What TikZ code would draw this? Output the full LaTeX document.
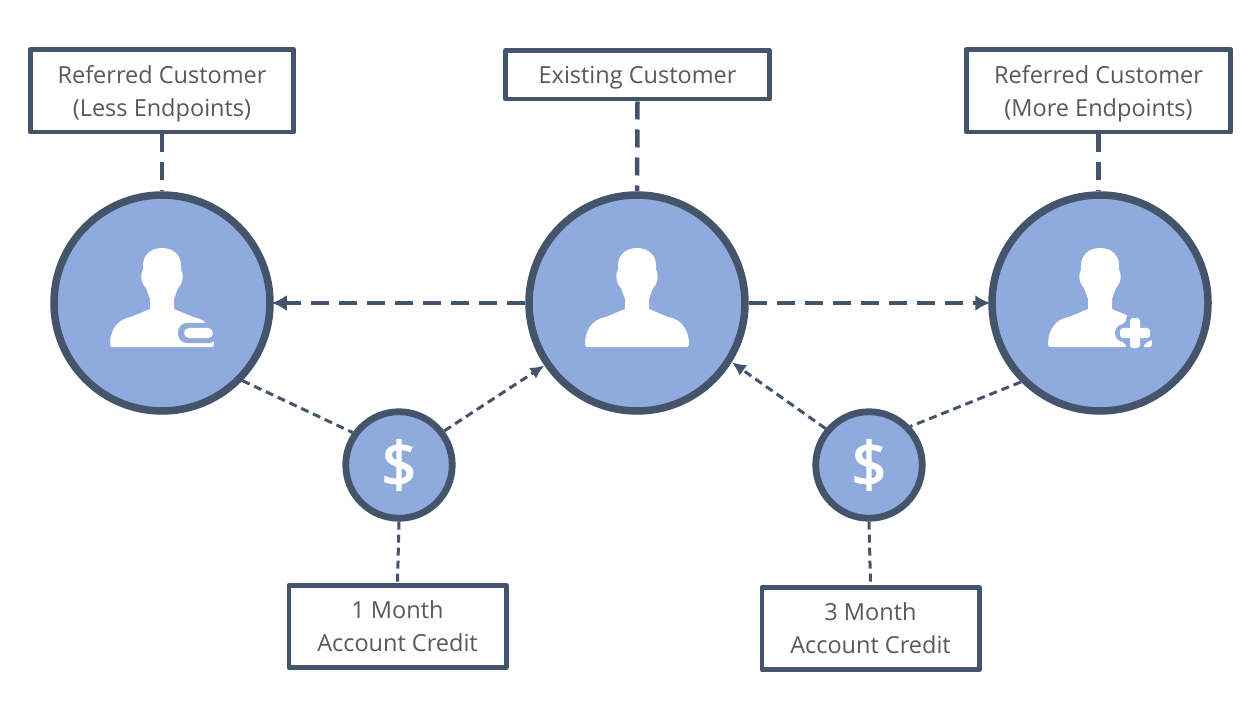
\documentclass[tikz,border=0pt]{standalone}
\usepackage{fontspec}
\setmainfont{Open Sans}
\newfontfamily\dollarfont[FakeBold=2.5]{Open Sans}
\usetikzlibrary{arrows.meta}
\definecolor{slateline}{HTML}{44546A}
\definecolor{paleblue}{HTML}{8FAADC}
\definecolor{labelgrey}{HTML}{595959}
\tikzset{
    pics/personicon/.style={code={
        \fill[white] (0,-55) .. controls (-12,-55) and (-19,-47) .. (-19,-38)
            -- (-19,-33) .. controls (-21,-31) and (-21,-25) .. (-20,-22)
            .. controls (-19,-18) and (-17,-16) .. (-16,-15)
            -- (-12,-4) -- (-12,6) -- (-31,14)
            .. controls (-45,16) and (-52,28) .. (-52,41)
            .. controls (-52,43) and (-51,44) .. (-50,44)
            -- (50,44) .. controls (51,44) and (52,43) .. (52,41)
            .. controls (52,28) and (45,16) .. (31,14)
            -- (12,6) -- (12,-4) -- (16,-15)
            .. controls (17,-16) and (19,-18) .. (20,-22)
            .. controls (21,-25) and (21,-31) .. (19,-33)
            -- (19,-38) .. controls (19,-47) and (12,-55) .. (0,-55) -- cycle;
    }},
    pics/minusbadge/.style={code={
        \fill[paleblue,rounded corners=9] (16,20) rectangle (56,40);
        \fill[white,rounded corners=5] (22,25) rectangle (51,35);
    }},
    pics/plusbadge/.style={code={
        \fill[paleblue] (30,8) rectangle (56,21);
        \fill[paleblue] (35,30) circle (15);
        \draw[paleblue,line width=18pt,line cap=round] (35,17) -- (35,43);
        \draw[paleblue,line width=18pt,line cap=round] (24,30) -- (46,30);
        \fill[white,rounded corners=3] (30,15) rectangle (40,45);
        \fill[white,rounded corners=3] (20,25) rectangle (50,35);
    }},
}
\begin{document}
\begin{tikzpicture}[x=1pt,y=-1pt,
    customer/.style={circle,draw=slateline,fill=paleblue,line width=7.5pt,minimum size=216pt,inner sep=0pt},
    credit/.style={circle,draw=slateline,fill=paleblue,line width=6.8pt,minimum size=106.5pt,inner sep=0pt,
        text=white,font=\dollarfont\fontsize{62}{62}\selectfont},
    caption/.style={draw=slateline,fill=white,line width=4.6pt,line join=round,text=labelgrey,align=center,
        inner sep=0pt,text depth=0pt,font=\fontsize{23.5}{33}\selectfont},
    bigdash/.style={slateline,line width=4.5pt,dash pattern=on 18pt off 10pt},
    smalldash/.style={slateline,line width=3pt,dash pattern=on 8pt off 5pt},
    tip/.style={-{Latex[length=14pt,width=13pt]}},
    bigtip/.style={-{Latex[length=15pt,width=16pt]},shorten >=-2pt}]
    \useasboundingbox (0,0) rectangle (1260,708);
    % customers
    \node[customer] (custL) at (162,303) {};
    \node[customer] (custM) at (637,303) {};
    \node[customer] (custR) at (1100,303) {};
    \pic at (custL) {personicon};
    \pic at (custL) {minusbadge};
    \pic at (custM) {personicon};
    \pic at (custR) {personicon};
    \pic at (custR) {plusbadge};
    % credits
    \node[credit] (creditL) at (399,465) {\$};
    \node[credit] (creditR) at (869,465) {\$};
    % captions
    \node[caption,minimum width=263.4pt,minimum height=82.8pt] (capL) at (162,90.7) {Referred Customer\\(Less Endpoints)};
    \node[caption,minimum width=264.4pt,minimum height=48.4pt] (capM) at (637.5,75) {Existing Customer};
    \node[caption,minimum width=264.4pt,minimum height=82.8pt] (capR) at (1098.5,90.7) {Referred Customer\\(More Endpoints)};
    \node[caption,minimum width=217.4pt,minimum height=82.4pt] (capCL) at (397.5,626.5) {1 Month\\Account Credit};
    \node[caption,minimum width=217.4pt,minimum height=82.4pt] (capCR) at (870.5,628.5) {3 Month\\Account Credit};
    % connectors
    \draw[bigdash] (capL.south) -- (capL.south |- custL.north);
    \draw[bigdash] (capM.south) -- (custM.north);
    \draw[bigdash] (capR.south) -- (capR.south |- custR.north);
    \draw[bigdash,bigtip] (custM.west) -- (custL.east);
    \draw[bigdash,bigtip] (custM.east) -- (custR.west);
    \draw[smalldash] (custL.-44) -- (creditL.145);
    \draw[smalldash,tip] (creditL.37) -- (custM.214);
    \draw[smalldash,tip] (creditR.140) -- (custM.-32);
    \draw[smalldash] (custR.225) -- (creditR.43);
    \draw[smalldash] (creditL.south) -- (capCL.north);
    \draw[smalldash] (creditR.south) -- (capCR.north);
\end{tikzpicture}
\end{document}
